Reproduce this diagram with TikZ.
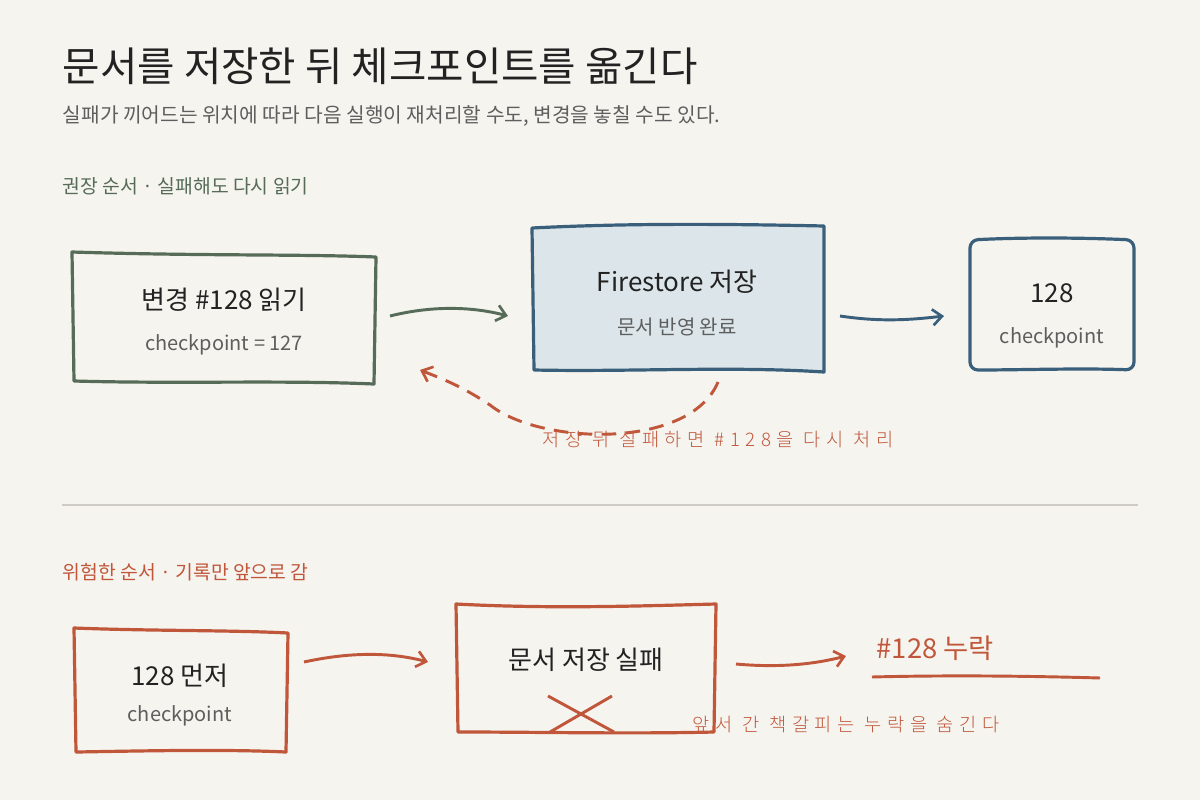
\documentclass[tikz,border=0pt]{standalone}
\usepackage{fontspec}
\setmainfont{Noto Sans CJK KR}
\newfontfamily\hand[LetterSpace=30]{Noto Sans CJK KR Light}
\usetikzlibrary{arrows.meta}
\definecolor{bg}{HTML}{F6F4EF}
\definecolor{ink}{HTML}{222222}
\definecolor{gry}{HTML}{5E5E5E}
\definecolor{grn}{HTML}{566B58}
\definecolor{blu}{HTML}{3A5F7A}
\definecolor{bfill}{HTML}{DCE6EA}
\definecolor{red}{HTML}{C0573B}
\definecolor{rule}{HTML}{CFCCC5}
\begin{document}
\begin{tikzpicture}[x=0.75pt,y=-0.75pt,
  box/.style={line width=2.4pt,line join=round},
  arr/.style={line width=2.2pt,-{Straight Barb[length=7pt,width=12pt,line width=2pt]}},
  main/.style={font=\fontsize{19.5}{23}\selectfont,text=ink},
  sub/.style={font=\fontsize{15}{18}\selectfont,text=gry},
  lab/.style={font=\fontsize{14.5}{17}\selectfont,anchor=west},
  hw/.style={font=\hand\fontsize{14}{17}\selectfont,text=red,anchor=west}]
\fill[bg] (0,0) rectangle (1200,800);
\useasboundingbox (0,0) rectangle (1200,800);
\node[anchor=west,font=\fontsize{30.5}{36}\selectfont,text=ink] (title) at (58,66) {문서를 저장한 뒤 체크포인트를 옮긴다};
\node[anchor=west,font=\fontsize{15.2}{18}\selectfont,text=gry] (subt) at (58,116) {실패가 끼어드는 위치에 따라 다음 실행이 재처리할 수도, 변경을 놓칠 수도 있다.};
\node[lab,text=grn] (l1) at (58,186) {권장 순서 · 실패해도 다시 읽기};
% box1
\draw[box,grn] (72,252) .. controls (200,256) and (300,254) .. (376,257) -- (374,384) .. controls (280,380) and (180,384) .. (74,381) -- cycle;
\node[main] (b1) at (224,300) {변경 \#128 읽기};
\node[sub] (b1s) at (224,345) {checkpoint = 127};
\coordinate (a1s) at (390,316); \coordinate (a1e) at (508,316);
\draw[arr,grn] (a1s) .. controls (430,306) and (470,306) .. (a1e);
% box2
\draw[box,blu,fill=bfill] (532,228) .. controls (630,223) and (730,224) .. (824,226) -- (824,372) .. controls (730,366) and (630,372) .. (534,370) -- cycle;
\node[main] (b2) at (677,282) {Firestore 저장};
\node[sub] (b2s) at (677,327) {문서 반영 완료};
\coordinate (a2s) at (840,316); \coordinate (a2e) at (944,316);
\draw[arr,blu] (a2s) .. controls (880,322) and (910,320) .. (a2e);
% box3
\draw[box,blu,rounded corners=6pt] (970,240) .. controls (1030,237) and (1090,238) .. (1134,240) -- (1134,370) .. controls (1080,368) and (1020,370) .. (970,370) -- cycle;
\node[main] (b3) at (1052,293) {128};
\node[sub] (b3s) at (1052,338) {checkpoint};
% dashed return
\coordinate (rs) at (718,382); \coordinate (re) at (420,370);
\draw[red,line width=2.2pt,dash pattern=on 11pt off 7pt,-{Straight Barb[length=7pt,width=12pt,line width=2pt]}] (rs) .. controls (690,450) and (540,445) .. (490,405) .. controls (460,385) and (440,378) .. (re);
\node[hw] (rl) at (538,440) {저장 뒤 실패하면 \#128을 다시 처리};
% divider
\draw[rule,line width=1.2pt] (62,505) -- (1138,505);
\node[lab,text=red] (l2) at (58,572) {위험한 순서 · 기록만 앞으로 감};
% box4
\draw[box,red] (74,628) .. controls (150,631) and (230,630) .. (288,633) -- (286,752) .. controls (220,749) and (140,751) .. (76,752) -- cycle;
\node[main] (b4) at (180,676) {128 먼저};
\node[sub] (b4s) at (180,716) {checkpoint};
\coordinate (a3s) at (304,662); \coordinate (a3e) at (428,662);
\draw[arr,red] (a3s) .. controls (350,652) and (390,652) .. (a3e);
% box5
\draw[box,red] (456,604) .. controls (550,609) and (640,606) .. (716,604) -- (714,732) .. controls (630,734) and (540,732) .. (458,732) -- cycle;
\node[main] (b5) at (586,660) {문서 저장 실패};
\coordinate (x1) at (550,732); \coordinate (x2) at (612,696);
\coordinate (x3) at (548,696); \coordinate (x4) at (614,732);
\draw[red,line width=2.2pt] (x1) -- (x2) (x3) -- (x4);
\coordinate (a4s) at (736,664); \coordinate (a4e) at (846,656);
\draw[arr,red] (a4s) .. controls (780,668) and (815,664) .. (a4e);
\node[anchor=west,font=\fontsize{20.5}{24}\selectfont,text=red] (miss) at (872,648) {\#128 누락};
\coordinate (u1) at (872,677); \coordinate (u2) at (1100,678);
\draw[red,line width=2.2pt] (u1) .. controls (950,675) and (1030,676) .. (u2);
\node[hw] (hl) at (688,724) {앞서 간 책갈피는 누락을 숨긴다};
\end{tikzpicture}
\end{document}
